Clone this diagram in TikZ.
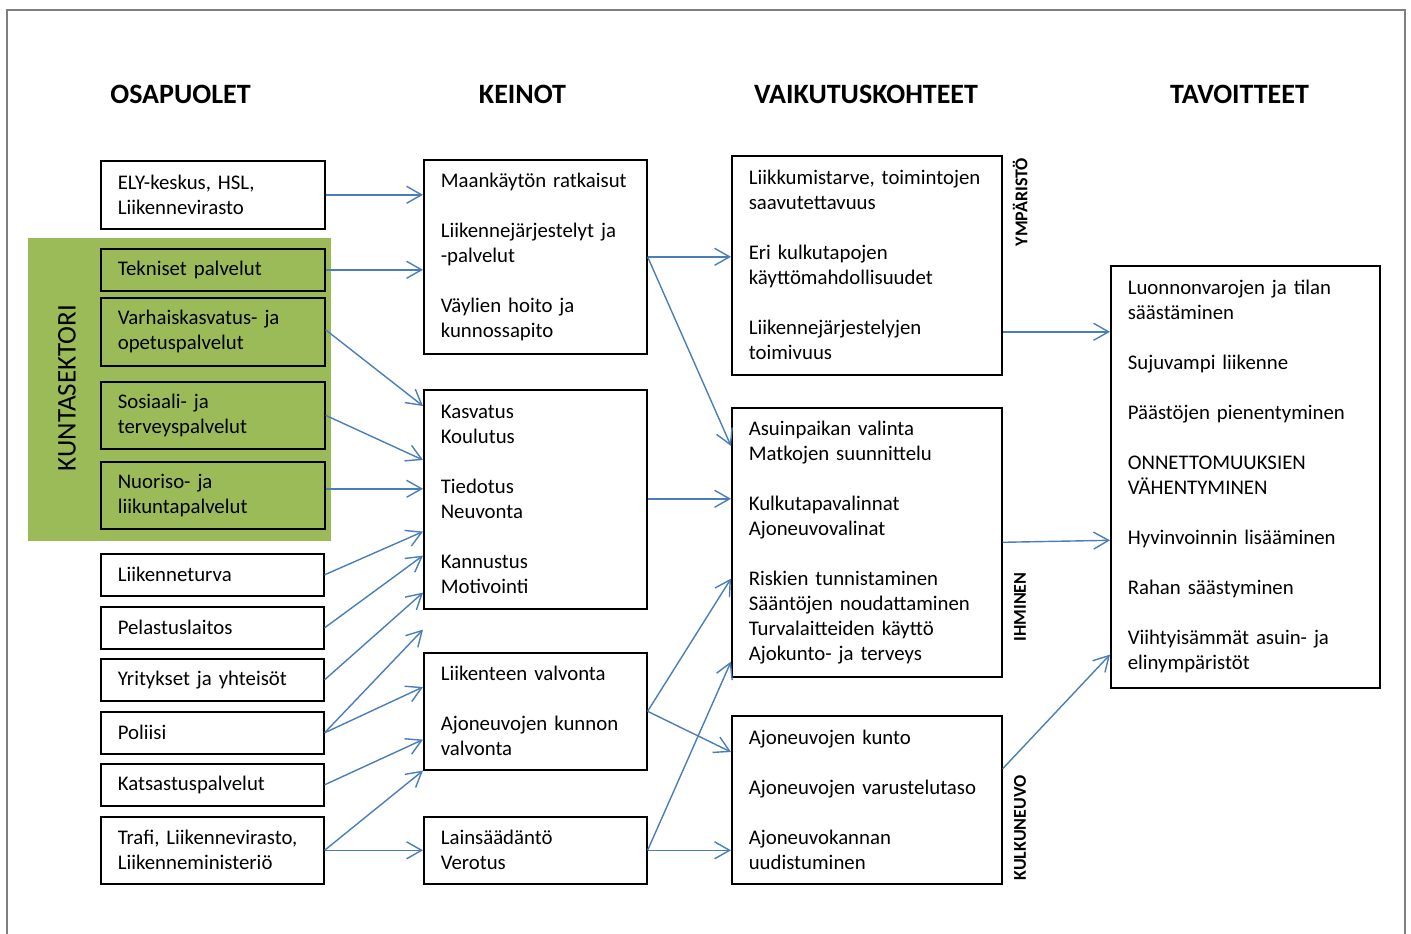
\documentclass[tikz,border=0pt]{standalone}
\usepackage{fontspec}
\setmainfont{Carlito}
\usetikzlibrary{arrows.meta}
\definecolor{kgreen}{HTML}{9BBB59}
\definecolor{kblue}{HTML}{4A7EBB}
\definecolor{kframe}{HTML}{7F7F7F}
\begin{document}
\begin{tikzpicture}[x=1pt,y=-1pt,
  box/.style={draw=black, line width=1.6pt, anchor=north west, align=left,
    inner xsep=0pt, inner ysep=0pt, font=\fontsize{20.8pt}{25pt}\selectfont},
  gbox/.style={box, fill=kgreen},
  head/.style={anchor=base, font=\fontsize{28pt}{32pt}\selectfont\bfseries, inner sep=0pt},
  side/.style={rotate=90, font=\fontsize{18pt}{20pt}\selectfont\bfseries, inner sep=0pt},
  arr/.style={draw=kblue, line width=1.4pt,
    -{Straight Barb[length=15pt, width=17pt, line width=1.4pt]}}
]
\useasboundingbox (0,0) rectangle (1411,934);
\draw[kframe, line width=1.5pt] (7,950) -- (7,10) -- (1405,10) -- (1405,950);

% headers
\node[head] (h1) at (180.5,103) {OSAPUOLET};
\node[head] (h2) at (522.5,103) {KEINOT};
\node[head] (h3) at (866,103) {VAIKUTUSKOHTEET};
\node[head] (h4) at (1239.5,103) {TAVOITTEET};

% green group
\node[fill=kgreen, anchor=north west, inner sep=0pt, minimum width=303, minimum height=303] (kgroup) at (28,238) {};
\node[rotate=90, inner sep=0pt, font=\fontsize{27pt}{30pt}\selectfont] (kunta) at (67,388) {KUNTASEKTORI};

% column 1
\node[box, minimum width=224, minimum height=68, text width=190] (ely) at (100,160) {ELY-keskus, HSL,\\Liikennevirasto};
\node[gbox, minimum width=224, minimum height=42, text width=190] (tek) at (100,248) {Tekniset palvelut};
\node[gbox, minimum width=224, minimum height=68, text width=190] (varh) at (100,297) {Varhaiskasvatus- ja\\opetuspalvelut};
\node[gbox, minimum width=224, minimum height=67, text width=190] (sos) at (100,381) {Sosiaali- ja\\terveyspalvelut};
\node[gbox, minimum width=224, minimum height=67, text width=190] (nuor) at (100,461) {Nuoriso- ja\\liikuntapalvelut};
\node[box, minimum width=223, minimum height=42, text width=189] (liik) at (100,553) {Liikenneturva};
\node[box, minimum width=223, minimum height=42, text width=189] (pel) at (100,606) {Pelastuslaitos};
\node[box, minimum width=223, minimum height=42, text width=189] (yrit) at (100,658) {Yritykset ja yhteisöt};
\node[box, minimum width=223, minimum height=42, text width=189] (pol) at (100,711) {Poliisi};
\node[box, minimum width=223, minimum height=42, text width=189] (kats) at (100,763) {Katsastuspalvelut};
\node[box, minimum width=223, minimum height=67, text width=189] (trafi) at (100,816) {Trafi, Liikennevirasto,\\Liikenneministeriö};

% column 2
\node[box, minimum width=223, minimum height=194, text width=189] (bA) at (423,159)
  {Maankäytön ratkaisut\\[25pt]Liikennejärjestelyt ja\\{}-palvelut\\[25pt]Väylien hoito ja\\kunnossapito};
\node[box, minimum width=223, minimum height=219, text width=189] (bB) at (423,389)
  {Kasvatus\\Koulutus\\[25pt]Tiedotus\\Neuvonta\\[25pt]Kannustus\\Motivointi};
\node[box, minimum width=223, minimum height=117, text width=189] (bC) at (423,652)
  {Liikenteen valvonta\\[25pt]Ajoneuvojen kunnon\\valvonta};
\node[box, minimum width=223, minimum height=67, text width=189] (bD) at (423,816)
  {Lainsäädäntö\\Verotus};

% column 3
\node[box, minimum width=270, minimum height=219, text width=236] (bE) at (731,155)
  {Liikkumistarve, toimintojen\\saavutettavuus\\[25pt]Eri kulkutapojen\\käyttömahdollisuudet\\[25pt]Liikennejärjestelyjen\\toimivuus};
\node[box, minimum width=270, minimum height=269, text width=236] (bF) at (731,407)
  {Asuinpaikan valinta\\Matkojen suunnittelu\\[25pt]Kulkutapavalinnat\\Ajoneuvovalinat\\[25pt]Riskien tunnistaminen\\Sääntöjen noudattaminen\\Turvalaitteiden käyttö\\Ajokunto- ja terveys};
\node[box, minimum width=270, minimum height=168, text width=236] (bG) at (731,715)
  {Ajoneuvojen kunto\\[25pt]Ajoneuvojen varustelutaso\\[25pt]Ajoneuvokannan\\uudistuminen};
\node[side] (ymp) at (1020,202) {YMPÄRISTÖ};
\node[side] (ihm) at (1020,607) {IHMINEN};
\node[side] (kulk) at (1020,828) {KULKUNEUVO};

% column 4
\node[box, minimum width=269, minimum height=422, text width=235] (bH) at (1110,265)
  {Luonnonvarojen ja tilan\\säästäminen\\[25pt]Sujuvampi liikenne\\[25pt]Päästöjen pienentyminen\\[25pt]ONNETTOMUUKSIEN\\VÄHENTYMINEN\\[25pt]Hyvinvoinnin lisääminen\\[25pt]Rahan säästyminen\\[25pt]Viihtyisämmät asuin- ja\\elinympäristöt};

% arrows column 1 -> column 2
\draw[arr] (ely.east) -- (bA.west |- ely.east);
\draw[arr] (tek.east) -- (bA.west |- tek.east);
\draw[arr] ([yshift=2pt]varh.east) -- ([yshift=-17pt]bB.north west);
\draw[arr] (sos.east) -- ([yshift=-71pt]bB.north west);
\draw[arr] ([yshift=6.5pt]nuor.east) -- ([yshift=6.5pt]bB.west |- nuor.east);
\draw[arr] (liik.east) -- ([yshift=78pt]bB.south west);
\draw[arr] (pel.east) -- ([yshift=54pt]bB.south west);
\draw[arr] (yrit.east) -- ([yshift=17pt]bB.south west);
\draw[arr] (pol.east) -- ([yshift=-20pt]bB.south west);
\draw[arr] (pol.east) -- ([yshift=-35pt]bC.north west);
\draw[arr] (kats.east) -- ([yshift=31pt]bC.south west);
\draw[arr] (trafi.east) -- (bC.south west);
\draw[arr] (trafi.east) -- (bD.west);

% arrows column 2 -> column 3
\draw[arr] (bA.east) -- (bE.west |- bA.east);
\draw[arr] (bA.east) -- ([yshift=-39pt]bF.north west);
\draw[arr] ([yshift=0.5pt]bB.east) -- ([yshift=0.5pt]bF.west |- bB.east);
\draw[arr] (bC.east) -- ([yshift=99pt]bF.south west);
\draw[arr] (bC.east) -- ([yshift=-37pt]bG.north west);
\draw[arr] (bD.east) -- ([yshift=16pt]bF.south west);
\draw[arr] (bD.east) -- (bG.west |- bD.east);

% arrows column 3 -> column 4
\draw[arr] ([yshift=-66.5pt]bE.east) -- ([yshift=-66.5pt]bH.west |- bE.east);
\draw[arr] (bF.east) -- ([yshift=-63.5pt]bH.west);
\draw[arr] ([yshift=31pt]bG.east) -- ([yshift=34pt]bH.south west);
\end{tikzpicture}
\end{document}
